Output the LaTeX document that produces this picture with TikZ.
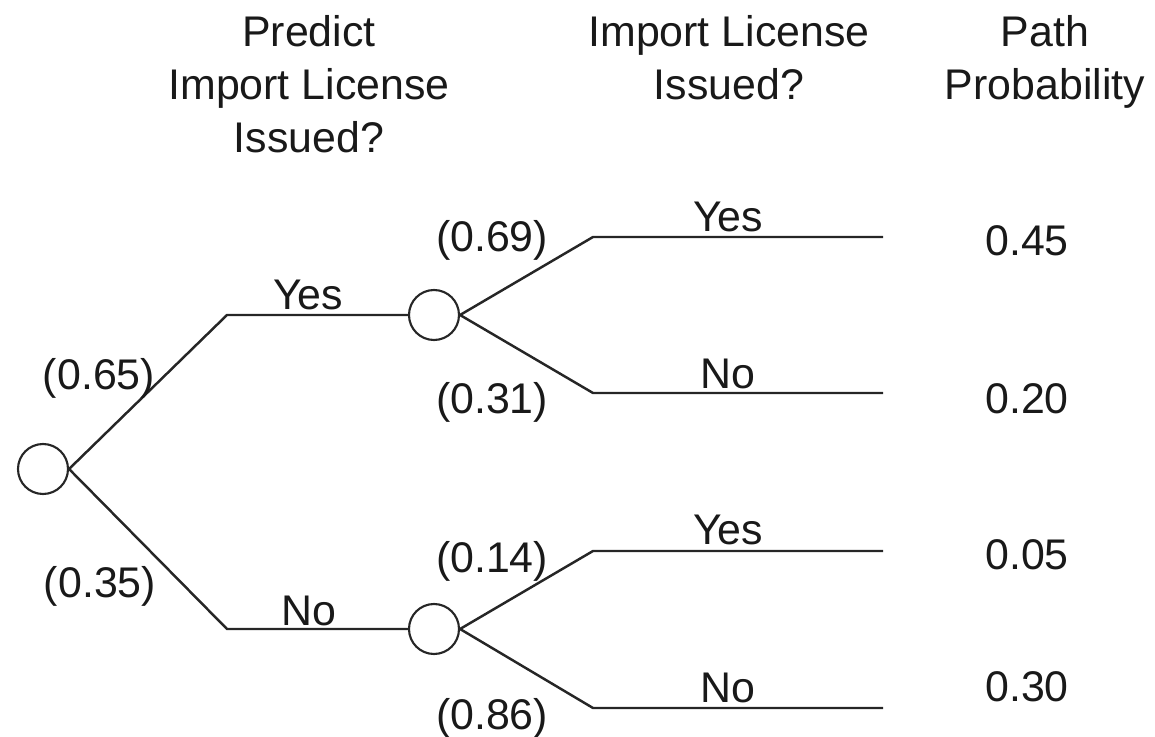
\documentclass[tikz,border=0pt]{standalone}
\usepackage{fontspec}
\setmainfont{Liberation Sans}
\usetikzlibrary{positioning}
\tikzset{
    base/.style = {font=\fontsize{12.2}{15.1}\selectfont, text=black!90, inner sep=0pt},
    chance/.style = {circle, draw=black!85, line width=0.6pt, minimum size=0.5cm, inner sep=0pt},
    branch/.style = {draw=black!85, line width=0.7pt},
    lbl/.style = {base, anchor=base},
    prob/.style = {base},
    head/.style = {base, align=center, anchor=base}
}

\begin{document}
\begin{tikzpicture}
    \useasboundingbox (0,0) rectangle (11.55,-7.37);

    % Column Headers (anchored at the last line)
    \node (hpredict) [head] at (3.09,-1.53) {Predict\\Import License\\Issued?};
    \node (hissued) [head] at (7.29,-1.00) {Import License\\Issued?};
    \node (hpath) [head] at (10.45,-1.00) {Path\\Probability};

    % Chance Nodes
    \node (root) [chance] at (0.43,-4.69) {};
    \node (cyes) [chance] at (4.34,-3.15) {};
    \node (cno) [chance] at (4.34,-6.29) {};

    % Branch Corners and Ends
    \coordinate (kyes) at (2.27,-3.15);
    \coordinate (kno) at (2.27,-6.29);
    \coordinate (kyy) at (5.93,-2.37);
    \coordinate (kyn) at (5.93,-3.93);
    \coordinate (kny) at (5.93,-5.51);
    \coordinate (knn) at (5.93,-7.08);
    \coordinate (eyy) at (8.83,-2.37);
    \coordinate (eyn) at (8.83,-3.93);
    \coordinate (eny) at (8.83,-5.51);
    \coordinate (enn) at (8.83,-7.08);

    % First Stage Branches
    \draw [branch] (root.east) -- (kyes) -- (cyes.west);
    \draw [branch] (root.east) -- (kno) -- (cno.west);

    % Second Stage Branches
    \draw [branch] (cyes.east) -- (kyy) -- (eyy);
    \draw [branch] (cyes.east) -- (kyn) -- (eyn);
    \draw [branch] (cno.east) -- (kny) -- (eny);
    \draw [branch] (cno.east) -- (knn) -- (enn);

    % Branch Labels
    \node (lyes) [lbl] at (3.08,-3.10) {Yes};
    \node (lno) [lbl] at (3.09,-6.25) {No};
    \node (lyy) [lbl] at (7.28,-2.32) {Yes};
    \node (lyn) [lbl] at (7.28,-3.89) {No};
    \node (lny) [lbl] at (7.28,-5.45) {Yes};
    \node (lnn) [lbl] at (7.28,-7.02) {No};

    % Branch Probabilities
    \node (p65) [prob] at (0.99,-3.78) {(0.65)};
    \node (p35) [prob] at (1.00,-5.86) {(0.35)};
    \node (p69) [prob] at (4.92,-2.40) {(0.69)};
    \node (p31) [prob] at (4.92,-4.02) {(0.31)};
    \node (p14) [prob] at (4.92,-5.61) {(0.14)};
    \node (p86) [prob] at (4.92,-7.18) {(0.86)};

    % Path Probabilities
    \node (pathyy) [prob] at (10.27,-2.41) {0.45};
    \node (pathyn) [prob] at (10.27,-3.99) {0.20};
    \node (pathny) [prob] at (10.27,-5.55) {0.05};
    \node (pathnn) [prob] at (10.27,-6.87) {0.30};
\end{tikzpicture}
\end{document}
